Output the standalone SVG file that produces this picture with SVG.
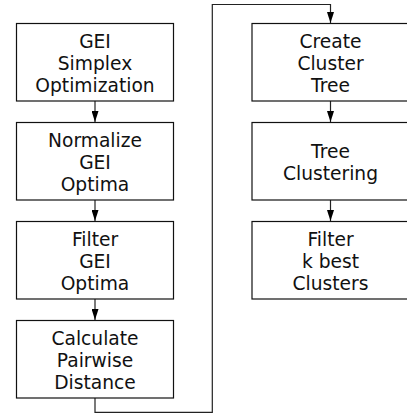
<svg xmlns="http://www.w3.org/2000/svg" width="407" height="414" viewBox="0 0 407 414">
<style>
.box{fill:#fff;stroke:#111;stroke-width:1.2}
.lbl{font-family:"DejaVu Sans",sans-serif;font-size:18.67px;fill:#111;text-anchor:middle}
.con{fill:none;stroke:#222;stroke-width:1.2}
</style>
<defs>
<marker id="ah" viewBox="0 0 11 7" refX="11" refY="3.5" markerWidth="11" markerHeight="7" markerUnits="userSpaceOnUse" orient="auto">
<path d="M0,0 L11,3.5 L0,7 Z" fill="#000"/>
</marker>
</defs>
<rect width="407" height="414" fill="#fff"/>
<g id="connectors">
<path class="con" d="M95,101 V122" marker-end="url(#ah)"/>
<path class="con" d="M95,200 V221" marker-end="url(#ah)"/>
<path class="con" d="M95,299 V320" marker-end="url(#ah)"/>
<path class="con" d="M95,398 V412.3 H212.3 V4.5 H330.5 V23" marker-end="url(#ah)"/>
<path class="con" d="M330.5,101 V122" marker-end="url(#ah)"/>
<path class="con" d="M330.5,200 V221" marker-end="url(#ah)"/>
</g>
<g id="n1"><rect class="box" x="16.5" y="23.5" width="157" height="77.5"/>
<text class="lbl" x="95" y="47.7">GEI</text><text class="lbl" x="95" y="70">Simplex</text><text class="lbl" x="95" y="92.3">Optimization</text></g>
<g id="n2"><rect class="box" x="16.5" y="122.5" width="157" height="77.5"/>
<text class="lbl" x="95" y="146.7">Normalize</text><text class="lbl" x="95" y="169">GEI</text><text class="lbl" x="95" y="191.3">Optima</text></g>
<g id="n3"><rect class="box" x="16.5" y="221.5" width="157" height="77.5"/>
<text class="lbl" x="95" y="245.7">Filter</text><text class="lbl" x="95" y="268">GEI</text><text class="lbl" x="95" y="290.3">Optima</text></g>
<g id="n4"><rect class="box" x="16.5" y="320.5" width="157" height="77.5"/>
<text class="lbl" x="95" y="344.7">Calculate</text><text class="lbl" x="95" y="367">Pairwise</text><text class="lbl" x="95" y="389.3">Distance</text></g>
<g id="n5"><rect class="box" x="252" y="23.5" width="157" height="77.5"/>
<text class="lbl" x="330.5" y="47.7">Create</text><text class="lbl" x="330.5" y="70">Cluster</text><text class="lbl" x="330.5" y="92.3">Tree</text></g>
<g id="n6"><rect class="box" x="252" y="122.5" width="157" height="77.5"/>
<text class="lbl" x="330.5" y="157.8">Tree</text><text class="lbl" x="330.5" y="180.1">Clustering</text></g>
<g id="n7"><rect class="box" x="252" y="221.5" width="157" height="77.5"/>
<text class="lbl" x="330.5" y="245.7">Filter</text><text class="lbl" x="330.5" y="268">k best</text><text class="lbl" x="330.5" y="290.3">Clusters</text></g>
</svg>
